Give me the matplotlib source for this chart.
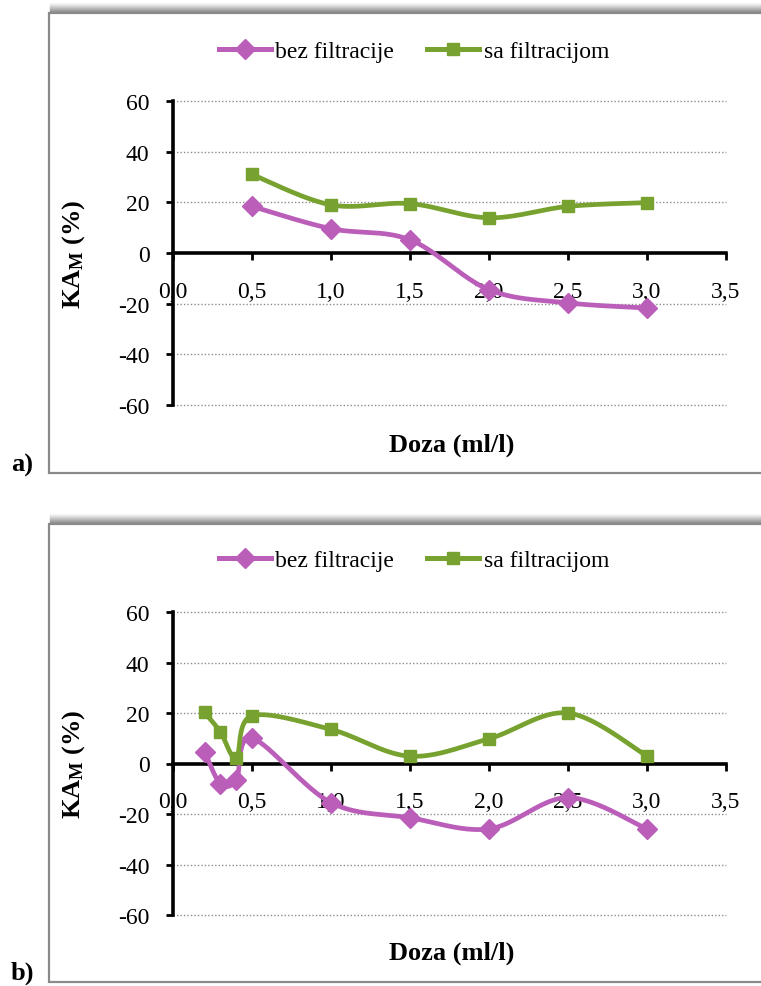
import numpy as np
import matplotlib
matplotlib.use("Agg")
from matplotlib import pyplot as plt, patches, lines

plt.rcParams['font.family'] = ['Liberation Serif', 'DejaVu Serif']
plt.rcParams['mathtext.fontset'] = 'custom'
plt.rcParams['mathtext.rm'] = 'Liberation Serif:bold'
plt.rcParams['mathtext.it'] = 'Liberation Serif:bold'
plt.rcParams['axes.unicode_minus'] = False

# ---- data ----
dose_a = [0.5, 1.0, 1.5, 2.0, 2.5, 3.0]
bez_a = [18.4, 9.6, 5.2, -14.5, -19.7, -21.7]
sa_a = [31.0, 19.0, 19.5, 13.9, 18.4, 19.9]

dose_b = [0.2, 0.3, 0.4, 0.5, 1.0, 1.5, 2.0, 2.5, 3.0]
bez_b = [4.6, -8.0, -6.5, 10.0, -15.5, -21.5, -25.9, -13.5, -25.9]
sa_b = [20.2, 12.5, 2.3, 18.9, 13.5, 2.9, 9.8, 20.0, 3.0]

xticks = [0.0, 0.5, 1.0, 1.5, 2.0, 2.5, 3.0, 3.5]
xticklabels = ['0,0', '0,5', '1,0', '1,5', '2,0', '2,5', '3,0', '3,5']
yticks = [-60, -40, -20, 0, 20, 40, 60]

series_names = ['bez filtracije', 'sa filtracijom']
purple = '#BA5EBA'
green = '#78A22F'

W, H = 761, 987
fig = plt.figure(figsize=(W / 100, H / 100), dpi=100)


def fx(px):
    return px / W


def fy(py):
    return 1 - py / H


def smooth(ax, x, y, n=40):
    # Excel-like smoothed line (Catmull-Rom bezier in display space)
    P = ax.transData.transform(np.column_stack([x, y]))
    out = [P[0]]
    for i in range(len(P) - 1):
        p0 = P[i - 1] if i > 0 else P[i]
        p1, p2 = P[i], P[i + 1]
        p3 = P[i + 2] if i + 2 < len(P) else P[i + 1]
        c1 = p1 + (p2 - p0) / 6
        c2 = p2 - (p3 - p1) / 6
        t = np.linspace(0, 1, n)[1:, None]
        seg = (1 - t)**3 * p1 + 3 * (1 - t)**2 * t * c1 + 3 * (1 - t) * t**2 * c2 + t**3 * p2
        out.extend(seg)
    out = ax.transData.inverted().transform(np.array(out))
    return out[:, 0], out[:, 1]


def frame(top, bottom):
    # shadow above the frame
    for k in range(11):
        a = 0.85 * (1 - k / 11) ** 1.3
        fig.add_artist(lines.Line2D([fx(50), 1.0], [fy(top - k), fy(top - k)],
                                    color='#6e6e6e', alpha=a, lw=1.0, zorder=-5))
    fig.add_artist(patches.Rectangle((fx(49), fy(bottom)), 1.0, (bottom - top) / H,
                                     transform=fig.transFigure, facecolor='white',
                                     edgecolor='#8a8a8a', lw=1.6, clip_on=False, zorder=-4))


def panel(rect, x, bez, sa, legend_y, xlabel_y, tag, tag_y):
    ax = fig.add_axes(rect)
    ax.set_xlim(0, 3.5)
    ax.set_ylim(-60, 60)
    ax.patch.set_alpha(0)

    for yv in yticks:
        if yv != 0:
            ax.axhline(yv, color='#8c8c8c', lw=1.0, ls=(0, (1, 1.5)), zorder=1, clip_on=False)

    xs, ys = smooth(ax, x, bez)
    ax.plot(xs, ys, color=purple, lw=3.4, zorder=3, solid_capstyle='round')
    ax.plot(x, bez, ls='none', marker='D', ms=10, color=purple, zorder=4)
    xs, ys = smooth(ax, x, sa)
    ax.plot(xs, ys, color=green, lw=3.4, zorder=3, solid_capstyle='round')
    ax.plot(x, sa, ls='none', marker='s', ms=9, color=green, zorder=4)

    h1 = lines.Line2D([], [], color=purple, lw=3.6, marker='D', ms=10)
    h2 = lines.Line2D([], [], color=green, lw=3.6, marker='s', ms=9)
    fig.legend([h1, h2], series_names, loc='center', bbox_to_anchor=(fx(414), fy(legend_y)),
               ncol=2, frameon=False, fontsize=17, numpoints=1, handlelength=2.2,
               handletextpad=0.2, columnspacing=1.4)

    for s in ['top', 'right']:
        ax.spines[s].set_visible(False)
    ax.spines['left'].set_position(('data', 0))
    ax.spines['bottom'].set_position(('data', 0))
    ax.spines['left'].set_linewidth(2.6)
    ax.spines['bottom'].set_linewidth(2.6)

    ax.set_xticks(xticks)
    ax.set_xticklabels(xticklabels)
    ax.set_yticks(yticks)
    ax.tick_params(axis='x', direction='out', length=5, width=2, pad=15, labelsize=17)
    ax.tick_params(axis='y', direction='out', length=5, width=2, pad=12, labelsize=17)

    ax.set_ylabel(r'KA$_\mathrm{M}$ (%)', fontsize=19, fontweight='bold')
    ax.yaxis.set_label_coords((87 - 173) / 553, 0.5)
    fig.text(fx(452), fy(xlabel_y), 'Doza (ml/l)', fontsize=19, fontweight='bold',
             ha='center', va='center')
    fig.text(fx(22), fy(tag_y), tag, fontsize=19, fontweight='bold', ha='center', va='center')
    return ax


frame(14, 474)
frame(525, 983)

panel([fx(173), fy(406), (726 - 173) / W, (406 - 102) / H], dose_a, bez_a, sa_a,
      52, 445, 'a)', 465)
panel([fx(173), fy(916), (726 - 173) / W, (916 - 613) / H], dose_b, bez_b, sa_b,
      561, 953, 'b)', 973)

fig.savefig('out.png', dpi=100)
